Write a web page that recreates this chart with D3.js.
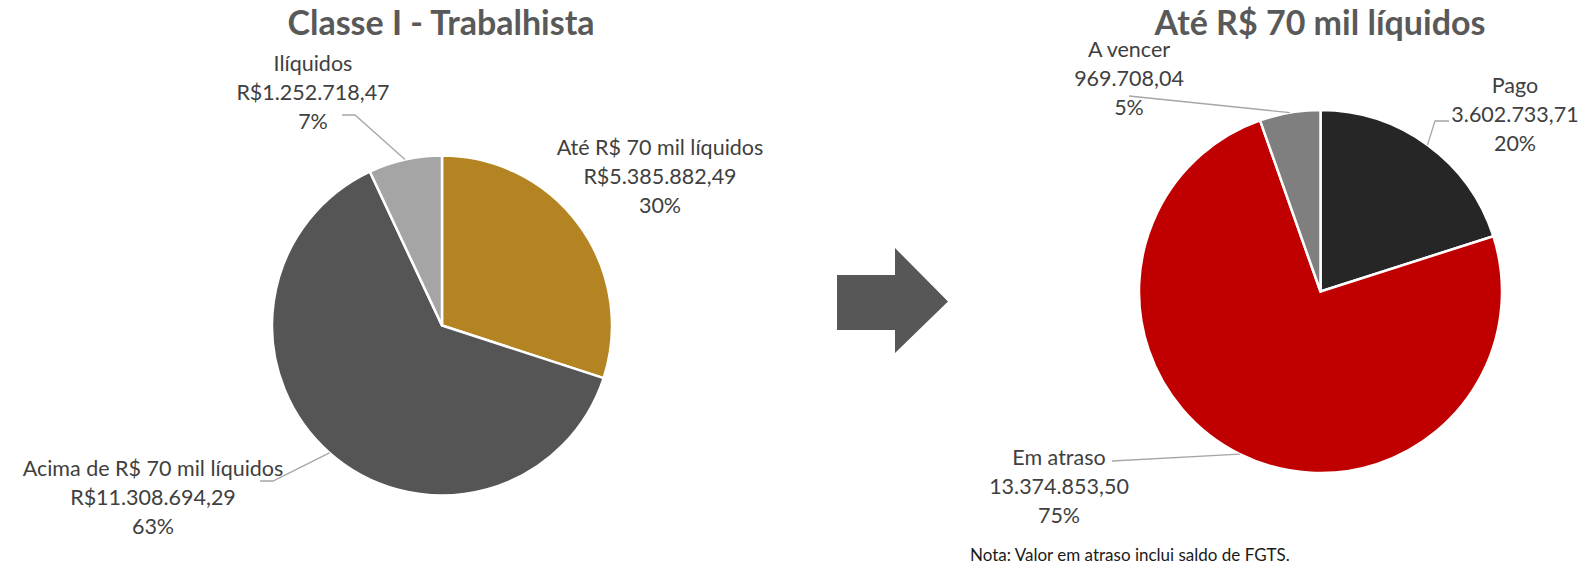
<!DOCTYPE html>
<html><head><meta charset="utf-8">
<script src="https://cdn.jsdelivr.net/npm/d3@7"></script>
<style>body{margin:0;background:#fff} svg{display:block}</style>
</head><body>
<svg id="c" width="1582" height="566"></svg>
<script>
// ---- data ----
const leftTitle = "Classe I - Trabalhista";
const leftCategories = ["Até R$ 70 mil líquidos", "Acima de R$ 70 mil líquidos", "Ilíquidos"];
const leftValues = [5385882.49, 11308694.29, 1252718.47];
const leftColors = ["#B38421", "#555555", "#A5A5A5"];

const rightTitle = "Até R$ 70 mil líquidos";
const rightCategories = ["Pago", "Em atraso", "A vencer"];
const rightValues = [3602733.71, 13374853.50, 969708.04];
const rightColors = ["#262626", "#C00000", "#7F7F7F"];

const note = "Nota: Valor em atraso inclui saldo de FGTS.";

// ---- formatting ----
const br = d3.formatLocale({decimal: ",", thousands: ".", grouping: [3], currency: ["R$", ""]});
const fmtCur = br.format("$,.2f");
const fmtNum = br.format(",.2f");

const svg = d3.select("#c");
const FONT = "Lato, 'Open Sans', sans-serif";

function drawPie(cfg) {
  const g = svg.append("g");
  const total = d3.sum(cfg.values);
  const pie = d3.pie().sort(null).value(d => d)(cfg.values);
  const arc = d3.arc().innerRadius(0).outerRadius(cfg.r);

  g.append("text")
    .attr("x", cfg.titleX).attr("y", cfg.titleY)
    .attr("text-anchor", "middle")
    .attr("font-family", FONT).attr("font-weight", "bold")
    .attr("font-size", 34).attr("fill", "#595959")
    .text(cfg.title);

  const pg = g.append("g").attr("transform", `translate(${cfg.cx},${cfg.cy})`);
  pg.selectAll("path").data(pie).join("path")
    .attr("d", arc)
    .attr("fill", (d, i) => cfg.colors[i])
    .attr("stroke", "#fff").attr("stroke-width", 2.5).attr("stroke-linejoin", "round");

  const line = d3.line();
  pie.forEach((d, i) => {
    const L = cfg.labels[i];
    const mid = (d.startAngle + d.endAngle) / 2;
    const edge = [cfg.cx + cfg.r * Math.sin(mid), cfg.cy - cfg.r * Math.cos(mid)];
    if (L.leader) {
      g.append("path")
        .attr("d", line(L.leader.concat([edge])))
        .attr("fill", "none").attr("stroke", "#A6A6A6").attr("stroke-width", 1.3);
    }
    const lines = [cfg.categories[i], cfg.fmt(cfg.values[i]), Math.round(cfg.values[i] / total * 100) + "%"];
    const t = g.append("text")
      .attr("text-anchor", "middle")
      .attr("font-family", FONT).attr("font-size", 21.5).attr("fill", "#404040");
    lines.forEach((s, k) => {
      t.append("tspan").attr("x", L.x).attr("y", L.y + k * 29).text(s);
    });
  });
}

drawPie({
  title: leftTitle, titleX: 441, titleY: 35,
  categories: leftCategories, values: leftValues, colors: leftColors,
  cx: 442, cy: 325.5, r: 170, fmt: fmtCur,
  labels: [
    {x: 660, y: 155},
    {x: 153, y: 476, leader: [[260, 481], [273, 481]]},
    {x: 313, y: 71, leader: [[342, 115], [355, 115]]}
  ]
});

drawPie({
  title: rightTitle, titleX: 1320, titleY: 35,
  categories: rightCategories, values: rightValues, colors: rightColors,
  cx: 1320.5, cy: 291.5, r: 181.5, fmt: fmtNum,
  labels: [
    {x: 1515, y: 93, leader: [[1449, 121], [1435, 121]]},
    {x: 1059, y: 465, leader: [[1112, 461]]},
    {x: 1129, y: 57, leader: [[1129, 96]]}
  ]
});

// arrow
svg.append("path")
  .attr("d", d3.line()([[837, 275], [895, 275], [895, 248], [948, 301.5], [895, 353], [895, 330], [837, 330]]) + "Z")
  .attr("fill", "#575757");

svg.append("text")
  .attr("x", 970).attr("y", 561)
  .attr("font-family", FONT).attr("font-size", 17).attr("fill", "#1a1a1a")
  .text(note);
</script></body></html>
